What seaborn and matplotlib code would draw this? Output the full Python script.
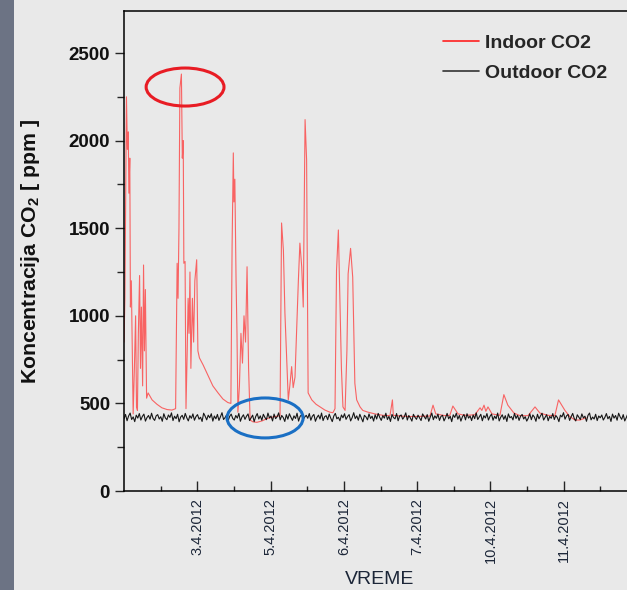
import numpy as np
import pandas as pd
import matplotlib
matplotlib.use("Agg")
import matplotlib.pyplot as plt
import seaborn as sns
from matplotlib.patches import Ellipse, Rectangle

# ---------------- data ----------------
# time in hours since start of the record (1 day = 24 h)
indoor_hours = [0.0, 0.3, 0.8, 1.1, 1.4, 1.6, 1.9, 2.1, 2.4, 2.7, 3.0, 3.4, 3.8, 4.1, 4.4, 4.7,
                5.1, 5.4, 5.7, 6.1, 6.4, 6.7, 7.0, 7.4, 7.9, 9.2, 10.8, 12.4, 14.1, 15.7, 16.9,
                17.4, 17.7, 18.0, 18.3, 18.8, 19.1, 19.4, 19.6, 20.0, 20.3, 20.7, 21.0, 21.3,
                21.6, 21.9, 22.4, 22.8, 23.2, 23.8, 24.2, 24.7, 25.9, 27.5, 29.1, 30.8, 32.4,
                34.0, 35.0, 35.4, 35.8, 36.0, 36.3, 36.7, 37.0, 37.3, 37.8, 38.3, 38.8, 39.3,
                39.8, 40.3, 40.8, 41.3, 42.2, 43.5, 45.2, 47.1, 49.4, 51.1, 51.6, 52.2, 52.7,
                53.3, 53.8, 54.3, 54.9, 55.4, 56.0, 56.5, 57.1, 57.6, 58.2, 58.7, 59.3, 59.8,
                60.3, 61.5, 62.9, 64.2, 65.8, 67.4, 68.4, 69.1, 69.6, 70.2, 70.7, 71.2, 71.7,
                72.4, 73.0, 73.4, 74.2, 74.9, 75.6, 76.2, 77.3, 78.2, 79.9, 82.2, 84.8, 87.1,
                87.9, 88.2, 90.4, 93.6, 96.9, 100.2, 101.2, 102.1, 105.1, 106.7, 107.7, 109.4,
                111.6, 114.9, 116.6, 117.2, 117.9, 118.5, 119.2, 120.5, 123.1, 124.4, 125.7,
                127.7, 129.7, 132.3, 134.6, 136.2, 138.8, 141.1, 142.3, 144.4, 146.0, 147.7,
                149.3, 151.3]
indoor_ppm = [850, 1100, 2250, 1950, 2050, 1700, 1900, 1050, 1200, 800, 440, 700, 1000, 480, 460, 900,
              1230, 700, 1050, 600, 1290, 800, 1150, 530, 560, 520, 495, 475, 465, 462, 470,
              1300, 1100, 1500, 2300, 2380, 1900, 2000, 1300, 1310, 470, 800, 1100, 900,
              1250, 700, 1100, 850, 1200, 1320, 800, 760, 720, 660, 600, 560, 525,
              505, 500, 1400, 1930, 1650, 1780, 1200, 900, 450, 600, 900, 730, 1000,
              850, 1280, 700, 405, 395, 392, 400, 415, 425, 430, 1530, 1375, 1015,
              750, 520, 600, 710, 590, 650, 900, 1200, 1415, 1280, 1050, 2120, 1890,
              560, 520, 495, 480, 462, 450, 447, 470, 1260, 1490, 1090, 700, 480,
              460, 800, 1240, 1385, 1220, 615, 520, 480, 460, 450, 440, 432, 430,
              520, 432, 428, 425, 426, 428, 490, 440, 430, 432, 485, 440,
              432, 435, 475, 460, 490, 455, 480, 440, 432, 550, 490,
              445, 430, 430, 480, 445, 432, 430, 520, 460, 425, 405,
              405, 418]

outdoor_ppm = [
    412, 437, 401, 428, 445, 408, 423, 396, 433, 416, 442, 405, 426, 439, 399, 419, 431, 410, 444, 414, 403, 429, 436, 411,
    424, 398, 441, 417, 407, 434, 420, 446, 402, 427, 413, 438, 395, 422, 432, 409, 443, 418, 400, 430, 415, 440, 404, 425,
    436, 410, 421, 397, 444, 427, 406, 433, 418, 441, 399, 428, 412, 437, 403, 424, 447, 408, 419, 434, 401, 426, 439, 414,
    405, 431, 416, 443, 398, 422, 435, 409, 427, 440, 402, 418, 433, 396, 425, 442, 411, 429, 404, 438, 420, 407, 445, 417,
    428, 400, 439, 413, 424, 446, 406, 431, 419, 397, 436, 410, 441, 421, 403, 429, 414, 444, 399, 426, 435, 408, 422, 432,
    415, 442, 404, 427, 437, 398, 420, 433, 411, 445, 402, 424, 430, 407, 439, 416, 396, 428, 443, 412, 421, 401, 434, 418,
    441, 409, 425, 436, 400, 419, 447, 413, 429, 404, 438, 417, 395, 432, 423, 406, 440, 414, 427, 399, 435, 411, 443, 420,
    403, 430, 416, 444, 408, 426, 397, 437, 419, 412, 442, 401, 428, 434, 410, 423, 446, 405, 431, 417, 399, 438, 421, 409,
    433, 418, 402, 440, 425, 411, 436, 398, 422, 445, 407, 429, 415, 439, 403, 426, 432, 400, 419, 443, 412, 427, 396, 435,
    420, 444, 410, 431, 399, 424, 437, 406, 441, 416, 428, 402, 434, 413, 446, 408, 423, 438, 401, 430, 417, 442, 405, 426,
    439, 404, 427, 413, 445, 400, 421, 435, 409, 430, 397, 440, 418, 425, 406, 443, 414, 432, 403, 428, 437, 411, 424, 399,
    416, 441, 407, 434, 422, 398, 438, 412, 429, 444, 405, 420, 436, 401, 426, 415, 442, 408, 431, 419, 396, 433, 423, 447,
    410, 429, 437, 403, 424, 443, 414, 400, 435, 421, 408, 440, 417, 427, 398, 432, 445, 406, 422, 411, 438, 402, 428, 418,
    434, 405, 420, 442, 412, 426, 397, 439, 416, 431, 404, 444, 423, 409, 436, 400, 419, 441, 413, 430, 407, 425, 446, 415]
outdoor_hours = np.linspace(0, 168, len(outdoor_ppm))

tick_hours = [24, 48, 72, 96, 120, 144]
tick_labels = ["3.4.2012", "5.4.2012", "6.4.2012", "7.4.2012", "10.4.2012", "11.4.2012"]
series_names = ["Indoor CO2", "Outdoor CO2"]

# ---------------- style ----------------
sns.set_style("ticks")
plt.rcParams["font.family"] = ["Liberation Sans", "DejaVu Sans"]
plt.rcParams["mathtext.fontset"] = "custom"
plt.rcParams["mathtext.rm"] = "Liberation Sans"
plt.rcParams["mathtext.bf"] = "Liberation Sans:bold"

BG = "#e9e9e9"
fig = plt.figure(figsize=(6.27, 5.9), dpi=100, facecolor=BG)
fig.patches.append(Rectangle((0, 0), 14 / 627, 1, transform=fig.transFigure,
                             facecolor="#6c7384", edgecolor="none", zorder=0))
ax = fig.add_axes([124 / 627, 99 / 590, 513 / 627, 480 / 590])
ax.set_facecolor(BG)

indoor_df = pd.DataFrame({"hours": indoor_hours, "ppm": indoor_ppm})
outdoor_df = pd.DataFrame({"hours": outdoor_hours, "ppm": outdoor_ppm})

sns.lineplot(data=indoor_df, x="hours", y="ppm", ax=ax, color="#ff2a2a", lw=0.8, alpha=0.7,
             estimator=None, sort=False, label=series_names[0])
sns.lineplot(data=outdoor_df, x="hours", y="ppm", ax=ax, color="black", lw=0.8, alpha=0.9,
             estimator=None, sort=False, label=series_names[1])

ax.set_xlim(0, 168)
ax.set_ylim(0, 2740)
ax.set_xticks(tick_hours)
ax.set_xticklabels(tick_labels, rotation=90, fontsize=10.5, color="#1c2638")
ax.set_xticks([12, 36, 60, 84, 108, 132, 156], minor=True)
ax.set_yticks([0, 500, 1000, 1500, 2000, 2500])
ax.set_yticklabels(["0", "500", "1000", "1500", "2000", "2500"], fontsize=13.5,
                   fontweight="bold", color="#111111")
ax.set_yticks([250, 750, 1250, 1750, 2250], minor=True)
ax.tick_params(axis="x", which="major", direction="in", length=7.4, width=1, pad=5)
ax.tick_params(axis="x", which="minor", direction="in", length=3.6, width=1)
ax.tick_params(axis="y", which="major", direction="out", length=6.5, width=1, pad=3.5)
ax.tick_params(axis="y", which="minor", direction="out", length=5, width=1)
ax.set_xlabel("")
ax.set_ylabel("")
for s in ["left", "top", "bottom"]:
    ax.spines[s].set_color("black")
    ax.spines[s].set_linewidth(1.1)
ax.spines["right"].set_visible(False)

# annotation ellipses
ax.add_patch(Ellipse((20.0, 2306), 25.5, 217, fill=False, edgecolor="#e81c24", lw=2.2, zorder=5))
ax.add_patch(Ellipse((46.2, 417), 24.9, 228, fill=False, edgecolor="#1a6fc4", lw=2.2, zorder=5))

leg = ax.legend(loc="upper left", bbox_to_anchor=(443 / 627, 1 - 34 / 590),
                bbox_transform=fig.transFigure, frameon=False, borderpad=0, borderaxespad=0,
                handlelength=1.85, handletextpad=0.3, labelspacing=0.65,
                prop={"weight": "bold", "size": 14})
for h, c in zip(leg.legend_handles, ["#ff2020", "#333333"]):
    h.set_color(c)
    h.set_alpha(1)
    h.set_linewidth(1.2)

fig.text(31 / 627, 1 - 252 / 590, r"Koncentracija CO$_{\mathbf{2}}$ [ ppm ]", rotation=90,
         ha="center", va="center", fontsize=15.3, fontweight="bold", color="#111111")
fig.text(380 / 627, 1 - 580 / 590, "VREME", ha="center", va="center", fontsize=14,
         color="#1c2638")

fig.savefig("out.png", dpi=100, facecolor=fig.get_facecolor())
